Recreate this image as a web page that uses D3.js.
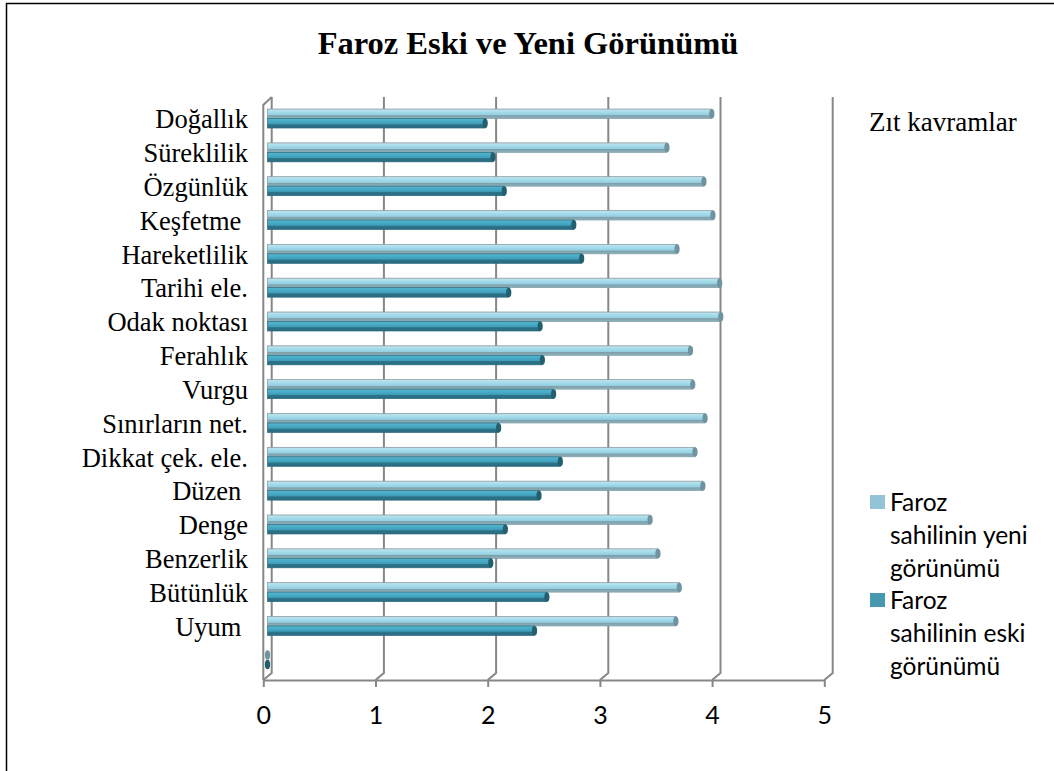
<!DOCTYPE html>
<html>
<head>
<meta charset="utf-8">
<script src="https://cdn.jsdelivr.net/npm/d3@7"></script>
<style>
  body { margin: 0; background: #fff; }
  svg { display: block; }
</style>
</head>
<body>
<div id="chart"></div>
<script>
// categories top -> bottom (last one is the empty slot at the bottom of the chart)
const categories = ["Doğallık", "Süreklilik", "Özgünlük", "Keşfetme ", "Hareketlilik", "Tarihi ele.",
  "Odak noktası", "Ferahlık", "Vurgu", "Sınırların net.", "Dikkat çek. ele.", "Düzen ", "Denge",
  "Benzerlik", "Bütünlük", "Uyum ", ""];
const yeniValues = [3.96, 3.56, 3.89, 3.97, 3.65, 4.03, 4.04, 3.77, 3.79, 3.90, 3.81, 3.88, 3.41, 3.48, 3.67, 3.64, 0];
const eskiValues = [1.94, 2.01, 2.11, 2.73, 2.80, 2.15, 2.43, 2.45, 2.55, 2.06, 2.61, 2.42, 2.12, 1.99, 2.49, 2.38, 0];
const xTicks = [0, 1, 2, 3, 4, 5];
const chartTitle = "Faroz Eski ve Yeni Görünümü";
const topLegend = "Zıt kavramlar";
const seriesLabels = [["Faroz", "sahilinin yeni", "görünümü"], ["Faroz", "sahilinin eski", "görünümü"]];

const width = 1054, height = 771;
const depthX = 4.2; // half of the 3d depth offset
const serif = "'Liberation Serif', 'Times New Roman', serif";
const sans = "Lato, 'Open Sans', sans-serif";

const svg = d3.select("#chart").append("svg")
  .attr("width", width)
  .attr("height", height);

// outer frame (runs off the right and bottom of the picture)
svg.append("rect")
  .attr("x", 6.5).attr("y", 3.5)
  .attr("width", width + 10).attr("height", height + 10)
  .attr("fill", "none").attr("stroke", "#000").attr("stroke-width", 1.5);

svg.append("text")
  .attr("x", 528).attr("y", 54)
  .attr("text-anchor", "middle")
  .style("font-family", serif)
  .style("font-weight", "bold")
  .style("font-size", "32.5px")
  .text(chartTitle);

// value scale at mid depth (where the bars sit), plus back wall and front floor
const x = d3.scaleLinear().domain([0, 5]).range([267.5, 828.5]);
const xBack = v => x(v) + depthX;
const xFront = d3.scaleLinear().domain([0, 5]).range([267.5 - depthX, 828.5 - depthX]);

const y = d3.scaleBand().domain(categories).range([101.6, 676.7]).padding(0);
const floorBack = 673, floorFront = 680, wallTop = 97;

const grid = svg.append("g").attr("fill", "none").attr("stroke", "#878787").attr("stroke-width", 2);

// back wall gridlines, bending down onto the floor
grid.selectAll("path.gl")
  .data(xTicks)
  .enter().append("path")
  .attr("class", "gl")
  .attr("d", v => `M${xBack(v)},${wallTop} V${floorBack} L${xFront(v)},${floorFront}`);

// left side wall edge
grid.append("path")
  .attr("d", `M${xFront(0)},${floorFront} V${wallTop + 8} L${xBack(0)},${wallTop}`);

// floor axis with labels
const xAxis = svg.append("g")
  .attr("transform", `translate(0,${floorFront})`)
  .call(d3.axisBottom(xFront).tickValues(xTicks).tickFormat(d3.format("d"))
    .tickSize(7).tickSizeOuter(0).tickPadding(19));
xAxis.select(".domain").attr("stroke", "#878787").attr("stroke-width", 2);
xAxis.selectAll(".tick line").attr("stroke", "#878787").attr("stroke-width", 2);
xAxis.selectAll(".tick text")
  .style("font-family", sans)
  .style("font-size", "25px")
  .attr("fill", "#000");

// category labels
const yAxis = svg.append("g")
  .attr("transform", "translate(248,0)")
  .call(d3.axisLeft(y).tickSize(0).tickPadding(0));
yAxis.select(".domain").remove();
yAxis.selectAll(".tick text")
  .attr("dy", "0.37em")
  .style("white-space", "pre")
  .style("font-family", serif)
  .style("font-size", "26.5px")
  .attr("fill", "#000");

// gradients for the cylinder-like bars
const defs = svg.append("defs");
function barGradient(id, stops) {
  const g = defs.append("linearGradient").attr("id", id)
    .attr("x1", 0).attr("y1", 0).attr("x2", 0).attr("y2", 1);
  stops.forEach(s => g.append("stop").attr("offset", s[0]).attr("stop-color", s[1]));
}
barGradient("gYeni", [["0%", "#c9c9c9"], ["12%", "#b7e3f0"], ["35%", "#a3daea"], ["62%", "#93cfe1"], ["70%", "#7f9ea8"], ["100%", "#8eb4c0"]]);
barGradient("gEski", [["0%", "#5ab6cf"], ["15%", "#4fb1cc"], ["55%", "#3f9fbb"], ["65%", "#2e7388"], ["100%", "#2a6b80"]]);

const series = [
  { values: yeniValues, fill: "url(#gYeni)", edge: "#7d9ca6", cap: "#6f93a0", off: -9.5 },
  { values: eskiValues, fill: "url(#gEski)", edge: "#2b6a7c", cap: "#22606f", off: 0 }
];
const barH = 9.5;

series.forEach(s => {
  const g = svg.append("g");
  const rows = categories.map((c, i) => ({ c: c, v: s.values[i] }));
  g.selectAll("rect")
    .data(rows.filter(d => d.v > 0))
    .enter().append("rect")
    .attr("x", x(0))
    .attr("y", d => y(d.c) + y.bandwidth() / 2 + s.off)
    .attr("width", d => x(d.v) - x(0))
    .attr("height", barH)
    .attr("fill", s.fill)
    .attr("stroke", s.edge)
    .attr("stroke-width", 0.7);
  g.selectAll("ellipse")
    .data(rows)
    .enter().append("ellipse")
    .attr("cx", d => x(d.v))
    .attr("cy", d => y(d.c) + y.bandwidth() / 2 + s.off + barH / 2)
    .attr("rx", 2.6)
    .attr("ry", barH / 2)
    .attr("fill", s.cap);
});

// legend
svg.append("text")
  .attr("x", 869).attr("y", 131)
  .style("font-family", serif)
  .style("font-size", "27px")
  .text(topLegend);

const swatchColors = ["#93c4d6", "#4799ae"];
const legendTop = [502, 600];
seriesLabels.forEach((lines, k) => {
  svg.append("rect")
    .attr("x", 870).attr("y", legendTop[k] - 7)
    .attr("width", 15).attr("height", 14)
    .attr("fill", swatchColors[k]);
  svg.append("g").selectAll("text")
    .data(lines)
    .enter().append("text")
    .attr("x", 890)
    .attr("y", (d, i) => legendTop[k] + 9 + i * 33)
    .style("font-family", sans)
    .style("font-size", "24.5px")
    .text(d => d);
});
</script>
</body>
</html>
